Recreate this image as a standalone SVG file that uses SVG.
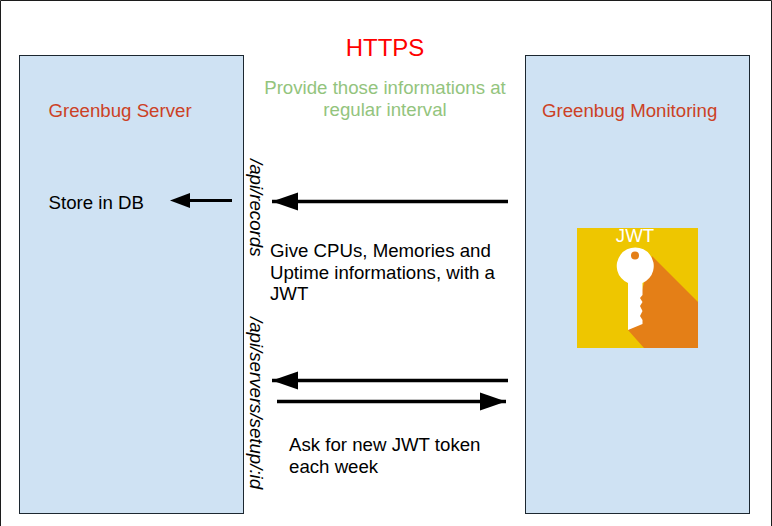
<svg xmlns="http://www.w3.org/2000/svg" width="772" height="526" viewBox="0 0 772 526">
<style>
text{font-family:"Liberation Sans",Arial,sans-serif;font-size:18.670px;fill:#000}
.panel{fill:#cfe2f3;stroke:#1c2730;stroke-width:1}
.red{fill:#cc4125}
.conn{stroke:#000;stroke-width:3.5;fill:none}
.rot{font-style:italic}
</style>
<defs>
<marker id="ah" markerUnits="userSpaceOnUse" markerWidth="28" markerHeight="20" refX="27" refY="10" orient="auto"><path d="M1 1L27 10L1 19Z" fill="#000"/></marker>
</defs>
<rect width="772" height="526" fill="#fff"/>
<path d="M.5 526V.5H771.5V526" fill="none" stroke="#1c1c1c" stroke-width="1"/>
<g id="server">
<rect class="panel" x="19.500" y="55.500" width="224" height="458"/>
<text class="red" x="48.500" y="117">Greenbug Server</text>
<text x="48.500" y="209">Store in DB</text>
</g>
<g id="monitoring">
<rect class="panel" x="525.500" y="55.500" width="224" height="458"/>
<text class="red" x="542" y="117">Greenbug Monitoring</text>
</g>
<g id="jwt">
<rect x="577" y="228" width="121" height="120" fill="#eec600"/>
<path d="M652 256L698 302V348H644L628 330V300L642 290Z" fill="#e47f17"/>
<path d="M628 283A18.500 18.500 0 1 1 642.500 283V295L640 298L642.500 302L640 306L642.500 311L640 316L642.500 320V324L628 330Z" fill="#fff"/>
<circle cx="635" cy="255.500" r="4" fill="#e47f17"/>
<text x="635" y="242" text-anchor="middle" style="fill:#fff">JWT</text>
</g>
<g id="https"><text x="385" y="55.500" text-anchor="middle" style="font-size:24px;fill:#f00">HTTPS</text></g>
<g id="note">
<text x="385" y="94" text-anchor="middle" style="fill:#93c47d">Provide those informations at</text>
<text x="385" y="116" text-anchor="middle" style="fill:#93c47d">regular interval</text>
</g>
<g id="connectors">
<path class="conn" d="M508 201.500H272" marker-end="url(#ah)"/>
<path class="conn" d="M508 380.500H272" marker-end="url(#ah)"/>
<path class="conn" d="M277 401.500H506" marker-end="url(#ah)"/>
<path d="M232 200.500H175" stroke="#000" stroke-width="3" fill="none"/>
<path d="M190 193L170 200.500L190 208Z" fill="#000"/>
</g>
<g id="labels">
<text class="rot" transform="translate(250 159) rotate(90)">/api/records</text>
<text class="rot" transform="translate(250 317) rotate(90)">/api/servers/setup/:id</text>
<text x="270" y="256.500">Give CPUs, Memories and</text>
<text x="270" y="279">Uptime informations, with a</text>
<text x="270" y="300">JWT</text>
<text x="289" y="451">Ask for new JWT token</text>
<text x="289" y="473">each week</text>
</g>
</svg>
